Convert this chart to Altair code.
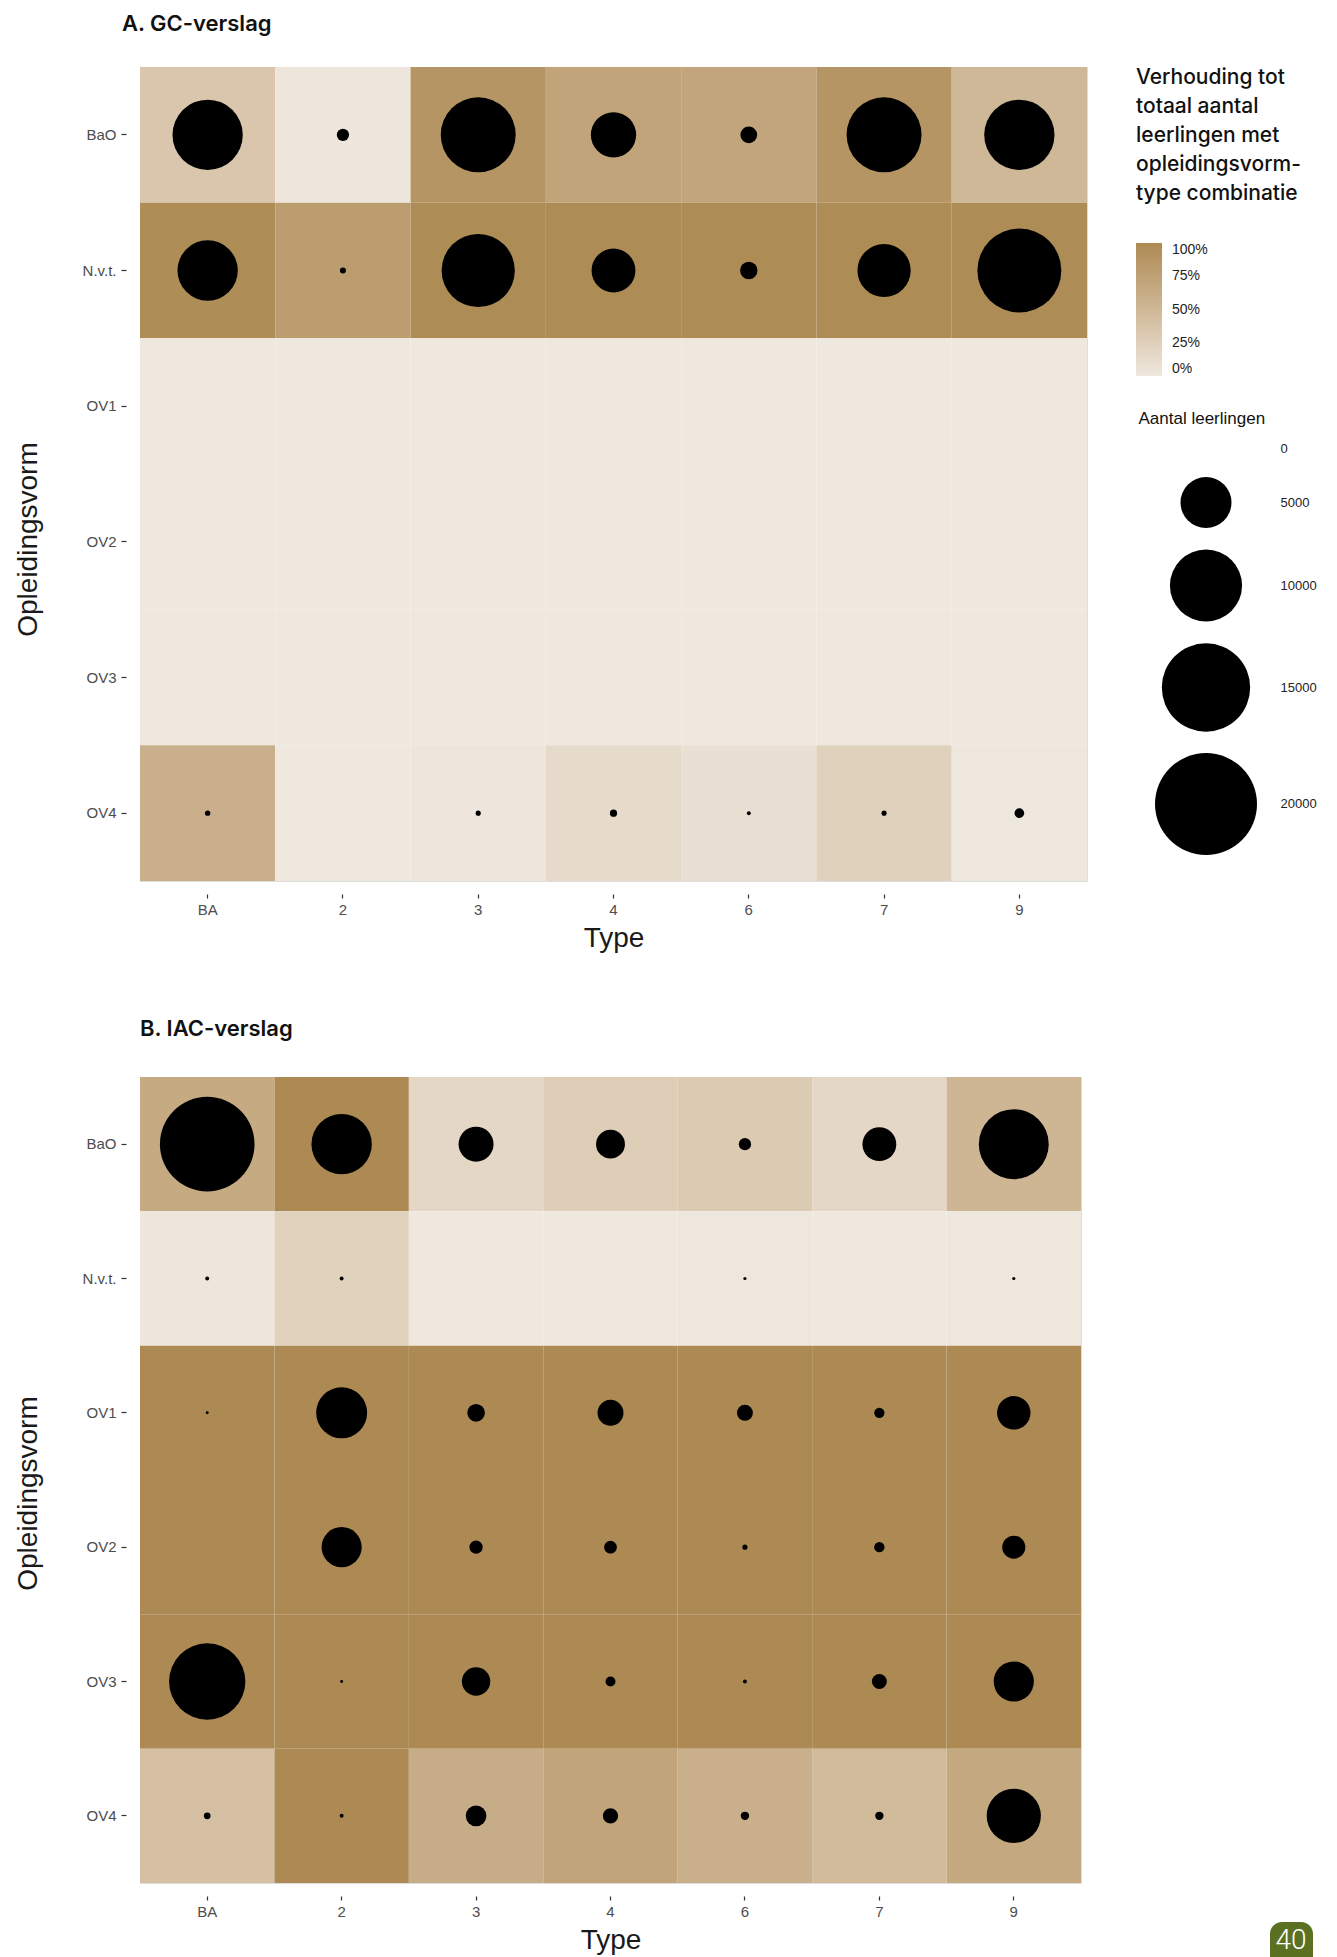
import altair as alt
import pandas as pd

types = ["BA", "2", "3", "4", "6", "7", "9"]
vormen = ["BaO", "N.v.t.", "OV1", "OV2", "OV3", "OV4"]

# ---- A. GC-verslag : share (0-100 %) of pupils per opleidingsvorm-type ----
gc_pct_bao = [35, 2, 88, 71, 70, 88, 50]
gc_pct_nvt = [97, 79, 98, 98, 98, 98, 98]
gc_pct_ov1 = [0, 0, 0, 0, 0, 0, 0]
gc_pct_ov2 = [0, 0, 0, 0, 0, 0, 0]
gc_pct_ov3 = [0, 0, 0, 0, 0, 0, 0]
gc_pct_ov4 = [59, 0, 2, 14, 9, 24, 1]

# ---- A. GC-verslag : number of pupils ----
gc_n_bao = [9500, 290, 10800, 3950, 540, 10800, 9500]
gc_n_nvt = [7000, 70, 10300, 3700, 580, 5450, 13550]
gc_n_ov1 = [0, 0, 0, 0, 0, 0, 0]
gc_n_ov2 = [0, 0, 0, 0, 0, 0, 0]
gc_n_ov3 = [0, 0, 0, 0, 0, 0, 0]
gc_n_ov4 = [55, 0, 50, 100, 30, 50, 180]

# ---- B. IAC-verslag : share (%) ----
iac_pct_bao = [65, 100, 17, 27, 30, 17, 52]
iac_pct_nvt = [2, 23, 0, 0, 1, 0, 1]
iac_pct_ov1 = [100, 100, 100, 100, 100, 100, 100]
iac_pct_ov2 = [100, 100, 100, 100, 100, 100, 100]
iac_pct_ov3 = [100, 100, 100, 100, 100, 100, 100]
iac_pct_ov4 = [41, 100, 62, 71, 59, 47, 67]

# ---- B. IAC-verslag : number of pupils ----
iac_n_bao = [17200, 7000, 2350, 1600, 290, 2200, 9400]
iac_n_nvt = [30, 30, 0, 0, 20, 0, 20]
iac_n_ov1 = [17, 5000, 600, 1300, 490, 205, 2150]
iac_n_ov2 = [0, 3100, 340, 310, 50, 205, 1020]
iac_n_ov3 = [11200, 17, 1550, 190, 30, 430, 3100]
iac_n_ov4 = [86, 30, 820, 450, 135, 135, 5650]

size_legend_values = [0, 5000, 10000, 15000, 20000]
color_legend_values = [0, 0.25, 0.5, 0.75, 1]
page_number = ["40"]


def build_frame(pcts, counts):
    rows = []
    for vorm, prow, nrow in zip(vormen, pcts, counts):
        for t, p, n in zip(types, prow, nrow):
            rows.append({"type": t, "vorm": vorm, "pct": p / 100.0, "n": n})
    return pd.DataFrame(rows)


df_gc = build_frame(
    [gc_pct_bao, gc_pct_nvt, gc_pct_ov1, gc_pct_ov2, gc_pct_ov3, gc_pct_ov4],
    [gc_n_bao, gc_n_nvt, gc_n_ov1, gc_n_ov2, gc_n_ov3, gc_n_ov4],
)
df_iac = build_frame(
    [iac_pct_bao, iac_pct_nvt, iac_pct_ov1, iac_pct_ov2, iac_pct_ov3, iac_pct_ov4],
    [iac_n_bao, iac_n_nvt, iac_n_ov1, iac_n_ov2, iac_n_ov3, iac_n_ov4],
)

LOW = "#EFE8DF"
HIGH = "#AD8A53"
AX_FONT = "Liberation Sans"
HEAD_FONT = "Inter"


def x_axis():
    return alt.Axis(
        title="Type", labelAngle=0, labelFont=AX_FONT, labelFontSize=15,
        labelColor="#4D4D4D", tickColor="#333333", tickSize=4, tickWidth=1.2,
        labelPadding=4, offset=13, domain=False, grid=False,
        titleFont=AX_FONT, titleFontSize=28, titleFontWeight="normal",
        titleColor="#1a1a1a", titlePadding=7,
    )


def y_axis(title_y, title_pad):
    return alt.Axis(
        title="Opleidingsvorm", labelFont=AX_FONT, labelFontSize=15,
        labelColor="#4D4D4D", tickColor="#333333", tickSize=5, tickWidth=1.2,
        labelPadding=5, offset=14, domain=False, grid=False,
        titleFont=AX_FONT, titleFontSize=28, titleFontWeight="normal",
        titleColor="#1a1a1a", titlePadding=title_pad, titleY=title_y,
    )


def panel(df, title, title_dx, title_offset, w, h, title_y, title_pad, show_legend):
    xenc = alt.X("type:N", sort=types,
                 scale=alt.Scale(domain=types, paddingInner=0, paddingOuter=0),
                 axis=x_axis())
    yenc = alt.Y("vorm:N", sort=vormen,
                 scale=alt.Scale(domain=vormen, paddingInner=0, paddingOuter=0),
                 axis=y_axis(title_y, title_pad))
    if show_legend:
        color_legend = alt.Legend(
            title=["Verhouding tot", "totaal aantal", "leerlingen met",
                   "opleidingsvorm-", "type combinatie"],
            orient="none", legendX=996, legendY=0, direction="vertical",
            gradientLength=133, gradientThickness=26, gradientStrokeWidth=0,
            values=color_legend_values, format=".0%",
            titleFont=HEAD_FONT, titleFontSize=21, titleFontWeight=500,
            titleLineHeight=29, titlePadding=39, titleColor="#111111",
            titleLimit=400,
            labelFont=AX_FONT, labelFontSize=14, labelColor="#222222",
            labelOffset=10, padding=0,
        )
        size_legend = alt.Legend(
            title="Aantal leerlingen", orient="none", legendX=998.5, legendY=344,
            values=size_legend_values, format="d", symbolType="circle",
            symbolFillColor="black", symbolStrokeWidth=0, symbolOpacity=1,
            symbolOffset=16.5, rowPadding=21, labelOffset=23.5,
            titleFont=AX_FONT, titleFontSize=17, titleFontWeight="normal",
            titleColor="#111111", titlePadding=14,
            labelFont=AX_FONT, labelFontSize=13, labelColor="#222222", padding=0,
        )
    else:
        color_legend = None
        size_legend = None

    rect = alt.Chart(df).mark_rect().encode(
        x=xenc, y=yenc,
        color=alt.Color("pct:Q",
                        scale=alt.Scale(domain=[0, 1], range=[LOW, HIGH], interpolate="lab"),
                        legend=color_legend),
    )
    # circle size: diameter 102 px at 20000 pupils (Vega size = diameter^2)
    pts = alt.Chart(df).mark_circle(color="black", opacity=1).encode(
        x=alt.X("type:N", sort=types), y=alt.Y("vorm:N", sort=vormen),
        size=alt.Size("n:Q", scale=alt.Scale(domain=[0, 20000], range=[0, 10404]),
                      legend=size_legend),
    )
    return alt.layer(rect, pts).properties(
        width=w, height=h,
        title=alt.TitleParams(title, anchor="start", frame="group", dx=title_dx,
                              offset=title_offset, font=HEAD_FONT, fontSize=22,
                              fontWeight=600, color="#111111"),
    ).resolve_scale(color="independent", size="independent")


top = panel(df_gc, "A. GC-verslag", -18, 31, 947, 814, 472, 40, True)

bottom_main = panel(df_iac, "B. IAC-verslag", 0, 36, 941, 806, 416, 40, False)

badge_df = pd.DataFrame({"label": page_number})
badge_rect = alt.Chart(badge_df).mark_rect(
    color="#5C7021", cornerRadiusTopLeft=12, cornerRadiusTopRight=12
).encode(x=alt.value(1130), x2=alt.value(1173), y=alt.value(845), y2=alt.value(881))
badge_text = alt.Chart(badge_df).mark_text(
    color="white", fontSize=28, font="Roboto", fontWeight=300, baseline="middle"
).encode(x=alt.value(1151), y=alt.value(864), text="label:N")

bottom = alt.layer(bottom_main, badge_rect, badge_text)

chart = alt.vconcat(top, bottom, spacing=64).resolve_scale(
    color="independent", size="independent"
).properties(padding={"left": 5, "top": 4, "right": 5, "bottom": 0}).configure_view(
    stroke=None
).configure(background="white")

chart.save("out.html", embed_options={"renderer": "svg", "actions": False})
